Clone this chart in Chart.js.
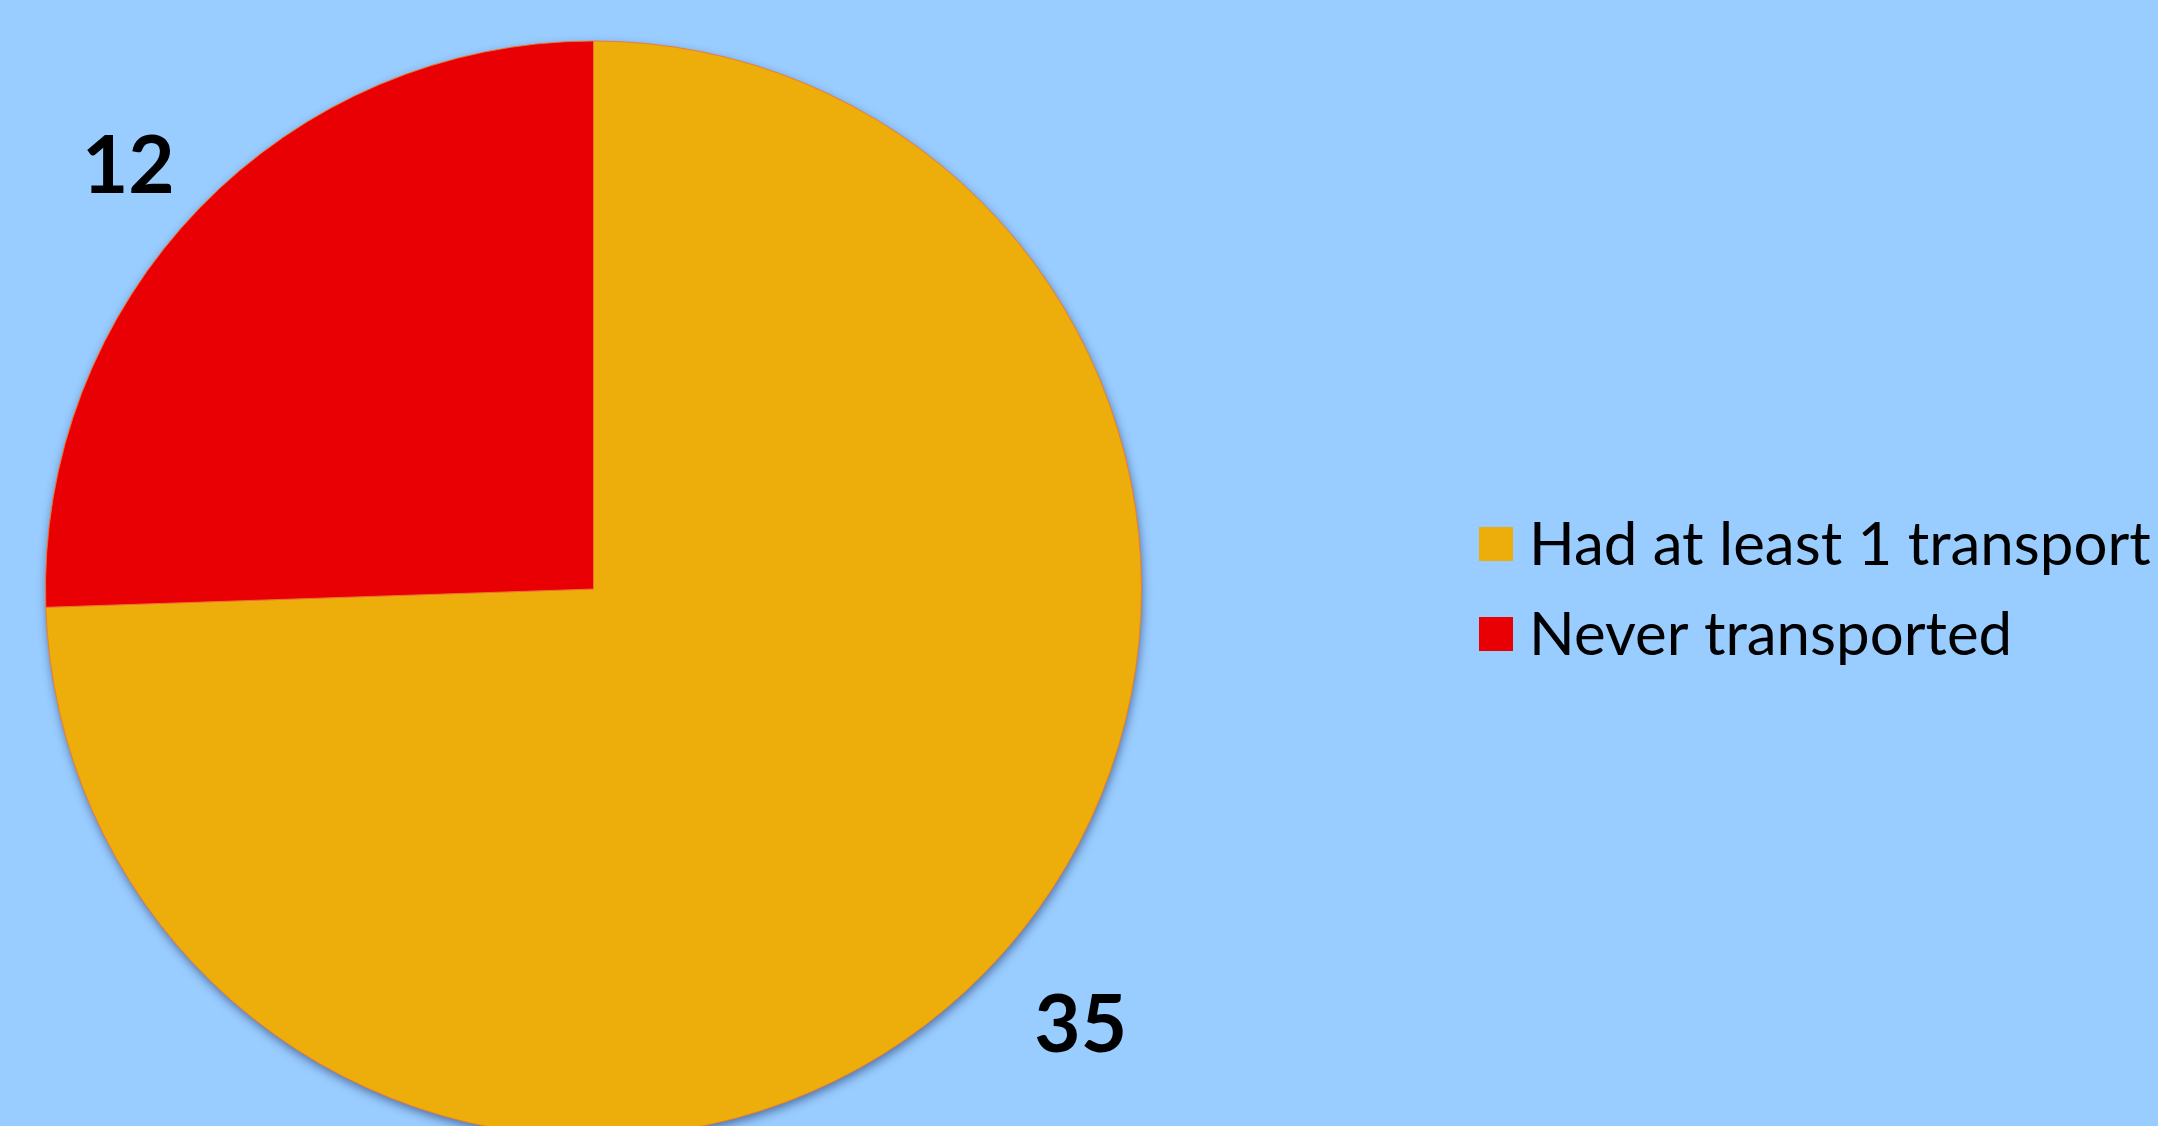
<!DOCTYPE html>
<html>
<head>
<meta charset="utf-8">
<script src="https://cdn.jsdelivr.net/npm/chart.js@4.4.1/dist/chart.umd.min.js"></script>
<style>
  html, body { margin: 0; padding: 0; background: #99CCFF; }
  canvas { display: block; }
</style>
</head>
<body>
<canvas id="c" width="2158" height="1126"></canvas>
<script>
const categories = ["Had at least 1 transport", "Never transported"];
const counts = [35, 12];
const sliceColors = ["#EDAD0B", "#E90005"];

const FONT = "Lato, 'Open Sans', sans-serif";

const shadowPlugin = {
  id: 'pieShadow',
  beforeDatasetsDraw(chart) {
    const arc = chart.getDatasetMeta(0).data[0];
    if (!arc) return;
    const ctx = chart.ctx;
    ctx.save();
    ctx.shadowColor = 'rgba(20,40,90,0.55)';
    ctx.shadowBlur = 10;
    ctx.shadowOffsetX = 1;
    ctx.shadowOffsetY = 4;
    ctx.fillStyle = sliceColors[0];
    ctx.beginPath();
    ctx.arc(arc.x, arc.y, arc.outerRadius, 0, Math.PI * 2);
    ctx.fill();
    ctx.restore();
  }
};

const labelPlugin = {
  id: 'outerLabels',
  afterDatasetsDraw(chart) {
    const ctx = chart.ctx;
    const meta = chart.getDatasetMeta(0);
    const vals = chart.data.datasets[0].data;
    ctx.save();
    ctx.fillStyle = '#000';
    ctx.font = "bold 80px " + FONT;
    ctx.textAlign = 'center';
    ctx.textBaseline = 'middle';
    meta.data.forEach((arc, i) => {
      const mid = (arc.startAngle + arc.endAngle) / 2 - 2 * Math.PI / 180;
      const r = arc.outerRadius * 1.17;
      ctx.fillText(String(vals[i]), arc.x + Math.cos(mid) * r + 11, arc.y + Math.sin(mid) * r + 8);
    });
    ctx.restore();
  }
};

const legendPlugin = {
  id: 'sideLegend',
  afterDraw(chart) {
    const ctx = chart.ctx;
    const labels = chart.data.labels;
    const colors = chart.data.datasets[0].backgroundColor;
    const x0 = 1479, size = 34, gap = 90, firstY = 544;
    ctx.save();
    ctx.font = "60px " + FONT;
    ctx.textBaseline = 'middle';
    ctx.textAlign = 'left';
    labels.forEach((lab, i) => {
      const cy = firstY + i * gap;
      ctx.fillStyle = colors[i];
      ctx.fillRect(x0, cy - size / 2, size, size);
      ctx.fillStyle = '#000';
      ctx.fillText(lab, x0 + 50, cy + 2);
    });
    ctx.restore();
  }
};

new Chart(document.getElementById('c'), {
  type: 'pie',
  data: {
    labels: categories,
    datasets: [{
      data: counts,
      backgroundColor: sliceColors,
      borderColor: 'rgba(236,120,50,0.9)',
      borderWidth: 1,
      radius: 548,
      clip: false
    }]
  },
  options: {
    responsive: false,
    devicePixelRatio: 1,
    animation: false,
    layout: { padding: { left: 0, right: 971, top: 52, bottom: 0 } },
    plugins: {
      legend: { display: false },
      tooltip: { enabled: false }
    }
  },
  plugins: [shadowPlugin, labelPlugin, legendPlugin]
});
</script>
</body>
</html>
